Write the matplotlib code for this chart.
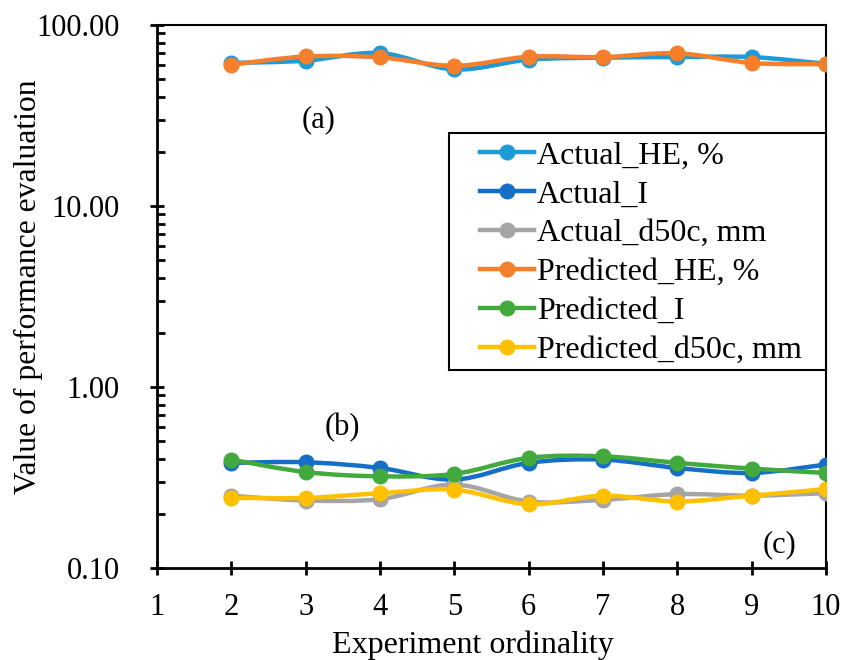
import numpy as np
import matplotlib
matplotlib.use("Agg")
import matplotlib.pyplot as plt
from matplotlib.path import Path
from matplotlib.patches import PathPatch, Rectangle
from matplotlib.lines import Line2D

plt.rcParams['font.family'] = ['Liberation Serif', 'DejaVu Serif']

# --- Data ---
ordinal = [2, 3, 4, 5, 6, 7, 8, 9, 10]
actual_he = [61.7, 63.5, 70.0, 56.8, 64.3, 66.0, 66.5, 66.5, 61.0]
actual_i = [0.381, 0.384, 0.357, 0.308, 0.381, 0.397, 0.357, 0.335, 0.373]
actual_d50c = [0.251, 0.236, 0.240, 0.289, 0.233, 0.238, 0.256, 0.251, 0.259]
pred_he = [60.3, 67.0, 66.2, 59.5, 66.8, 66.5, 69.8, 61.7, 60.8]
pred_i = [0.397, 0.339, 0.321, 0.331, 0.406, 0.414, 0.381, 0.354, 0.335]
pred_d50c = [0.244, 0.244, 0.259, 0.271, 0.225, 0.251, 0.233, 0.251, 0.273]

series = [
    ("Actual_HE, %", actual_he, "#1E9BD7"),
    ("Actual_I", actual_i, "#156FC6"),
    ("Actual_d50c, mm", actual_d50c, "#A5A5A5"),
    ("Predicted_HE, %", pred_he, "#F57F2B"),
    ("Predicted_I", pred_i, "#42AA3C"),
    ("Predicted_d50c, mm", pred_d50c, "#FFC000"),
]


def smooth_path(x, y):
    # Excel-like smoothed line: cubic Bezier through points, built in (x, log y)
    x = np.asarray(x, float)
    ly = np.log10(np.asarray(y, float))
    n = len(x)
    verts = [(x[0], ly[0])]
    codes = [Path.MOVETO]
    for i in range(n - 1):
        p0 = np.array([x[max(i - 1, 0)], ly[max(i - 1, 0)]])
        p1 = np.array([x[i], ly[i]])
        p2 = np.array([x[i + 1], ly[i + 1]])
        p3 = np.array([x[min(i + 2, n - 1)], ly[min(i + 2, n - 1)]])
        c1 = p1 + (p2 - p0) / 6.0
        c2 = p2 - (p3 - p1) / 6.0
        verts += [tuple(c1), tuple(c2), tuple(p2)]
        codes += [Path.CURVE4] * 3
    verts = [(vx, 10 ** vy) for vx, vy in verts]
    return Path(verts, codes)


W, H = 843, 660
fig = plt.figure(figsize=(W / 100, H / 100), dpi=100)
ax = fig.add_axes([157 / W, 1 - 568 / H, (826 - 157) / W, (568 - 25) / H])

handles = []
for i, (label, vals, col) in enumerate(series):
    patch = PathPatch(smooth_path(ordinal, vals), facecolor="none", edgecolor=col,
                      lw=3.2, transform=ax.transData, zorder=2 + i, capstyle="round")
    ax.add_patch(patch)
    ax.plot(ordinal, vals, linestyle="none", marker="o", ms=10.5, color=col, zorder=2 + i)
    handles.append(Line2D([], [], color=col, lw=3.2, marker="o", ms=10.5, label=label))

ax.set_yscale("log")
ax.set_xlim(1, 10)
ax.set_ylim(0.1, 100)
ax.set_xticks(range(1, 11))
ax.set_yticks([0.1, 1, 10, 100])
ax.set_yticklabels(["0.10", "1.00", "10.00", "100.00"])
ax.tick_params(axis="both", which="major", direction="inout", length=10, width=2,
               labelsize=22)
ax.tick_params(axis="x", which="major", pad=13)
ax.tick_params(axis="y", which="major", pad=22)
ax.tick_params(axis="y", which="minor", direction="in", length=6, width=2)
ax.tick_params(axis="y", which="minor", labelleft=False)
for side in ["left", "bottom"]:
    ax.spines[side].set_linewidth(2)
for side in ["top", "right"]:
    ax.spines[side].set_linewidth(1.5)

ax.set_xlabel("Experiment ordinality", fontsize=23)
ax.set_ylabel("Value of performance evaluation", fontsize=22.8)
ax.xaxis.set_label_coords((473 - 157) / 669, -(631 - 568) / 543)
ax.yaxis.set_label_coords((43 - 157) / 669, (568 - 287) / 543)

ax.text(3.17, 30, "(a)", fontsize=22, ha="center", va="center")
ax.text(3.49, 0.593, "(b)", fontsize=22, ha="center", va="center")
ax.text(9.37, 0.134, "(c)", fontsize=22, ha="center", va="center")

# legend frame drawn separately so the inner left padding matches
frame = Rectangle((449 / W, 1 - 370 / H), (826 - 449) / W, (370 - 133) / H,
                  transform=fig.transFigure, facecolor="white", edgecolor="black",
                  lw=1.5, zorder=15, clip_on=False)
ax.add_patch(frame)
leg = ax.legend(handles=handles, loc="upper left", bbox_to_anchor=(480 / W, 1 - 141 / H),
                bbox_transform=fig.transFigure, fontsize=23, frameon=False,
                labelspacing=0.3, handlelength=1.69, handletextpad=0.1, borderpad=0,
                borderaxespad=0)
leg.set_zorder(20)

fig.savefig("out.png", dpi=100)
